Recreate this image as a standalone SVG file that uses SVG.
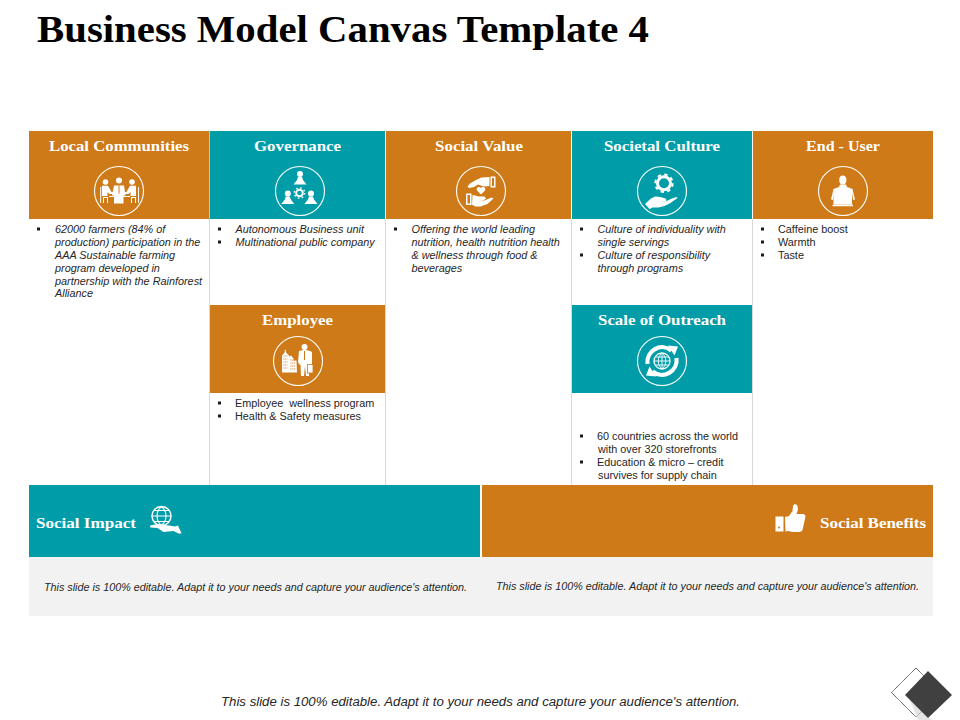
<svg xmlns="http://www.w3.org/2000/svg" width="960" height="720" viewBox="0 0 960 720">
<style>
.o{fill:#CE7A18}.t{fill:#009DA9}.g{fill:#F2F2F2}
.h{font:bold 14.5px "Liberation Serif",serif;fill:#fff;text-anchor:middle}
.b{font:10.85px "Liberation Sans",Arial,sans-serif;fill:#262626}
.i{font-style:italic}
.n{font:italic 10.6px "Liberation Sans",Arial,sans-serif;fill:#262626;text-anchor:middle}
.ring{fill:none;stroke:#fff;stroke-width:1.100}
.w{fill:#fff}
.ls{stroke:#fff;fill:none}
</style>
<defs><rect id="bu" width="3" height="3" fill="#1a1a1a"/></defs>
<rect width="960" height="720" fill="#fff"/>
<text x="37" y="42" font-family="Liberation Serif,serif" font-weight="bold" font-size="37" fill="#000" textLength="612" lengthAdjust="spacingAndGlyphs">Business Model Canvas Template 4</text>
<g id="grid" stroke="#D9D9D9" stroke-width="1" fill="none">
<path d="M209.500 219V485M385.500 219V485M571.500 219V485M752.500 219V485"/>
</g>
<g id="local-communities">
<rect class="o" x="29" y="131" width="180.500" height="88"/>
<text class="h" x="119" y="151" textLength="140" lengthAdjust="spacingAndGlyphs">Local Communities</text>
<circle class="ring" cx="119" cy="191" r="24.500"/>
<g class="w">
<circle cx="105.500" cy="182" r="2.800"/><circle cx="119" cy="180.500" r="3"/><circle cx="132" cy="182" r="2.800"/>
<path d="M114 185.500h10l1.500 10h-2v8h-9.500v-8h-2zM102 185.800h6l3.500 6.200h2v2h-4l-2-2v4h-5.500zM130 185.800h6v10.200h-5.500v-4l-2 2h-4v-2h2z"/>
<path d="M100.200 187h1v16h-1zM138 187h1v16h-1zM103 197h5v6h-1v-5h-3v5h-1zM131 197h5v6h-1v-5h-3v5h-1zM109 196h21v1h-21z"/>
</g>
<path d="M119 185.500v8" stroke="#CE7A18" stroke-width="1"/>
</g>
<g id="governance">
<rect class="t" x="210" y="131" width="175" height="88"/>
<text class="h" x="297.500" y="151" textLength="87" lengthAdjust="spacingAndGlyphs">Governance</text>
<circle class="ring" cx="300" cy="191" r="24.500"/>
<g class="w">
<circle cx="300" cy="174" r="3"/><path d="M298 177h4l1 3 3.500 4.500h-13l3.500-4.500z"/>
<circle cx="287.800" cy="193.500" r="3"/><path d="M285.800 196.500h4l1 3 3.500 4.500h-13l3.500-4.500z"/>
<circle cx="311" cy="193.500" r="3"/><path d="M309 196.500h4l1 3 3.500 4.500h-13l3.500-4.500z"/>
</g>
<circle cx="299.500" cy="193" r="3.300" fill="none" stroke="#fff" stroke-width="2"/>
<circle cx="299.500" cy="193" r="5.200" fill="none" stroke="#fff" stroke-width="1.400" stroke-dasharray="1.600 2.480"/>
</g>
<g id="social-value">
<rect class="o" x="386" y="131" width="185" height="88"/>
<text class="h" x="479" y="151" textLength="88" lengthAdjust="spacingAndGlyphs">Social Value</text>
<circle class="ring" cx="481" cy="191" r="24.500"/>
<g class="w">
<path d="M489.500 177l-8 .5-5.500 2.500-6 3.500-2.500 3 1.500 1.500 5-1 4-2.500 5.500 2 6-.5z"/>
<path d="M490.500 176.500h5v11h-5zM492 178v8h2v-8z" fill-rule="evenodd"/>
<path d="M466 193.500h5.500v11.500h-5.500zM467.500 195v8.500h2.500v-8.500z" fill-rule="evenodd"/>
<path d="M472.500 195l6.500 1.500h5.500l1.500 2-2 1.500h-5l5.500 .5 7-3 2 1-6 5.500-7 2.500h-5l-3-1.500h-.500z"/>
<path d="M481 194.500l-4-4a2.300 2.300 0 0 1 4-2.300 2.300 2.300 0 0 1 4 2.300z"/>
</g>
</g>
<g id="societal-culture">
<rect class="t" x="572" y="131" width="180" height="88"/>
<text class="h" x="662" y="151" textLength="116" lengthAdjust="spacingAndGlyphs">Societal Culture</text>
<circle class="ring" cx="662" cy="191" r="24.500"/>
<circle cx="664" cy="183.300" r="6.500" fill="none" stroke="#fff" stroke-width="3"/>
<circle cx="664" cy="183.300" r="8.700" fill="none" stroke="#fff" stroke-width="2" stroke-dasharray="3.400 3.430"/>
<path class="w" d="M645 204l6-5.500 4-2 5.500.5 5 1.500 1 1.500-1 1.500h-5.500l5 .3 7-3.300 4.500-1.500 1 1-7 5-6 3-6 1.500h-6l-3 1.500z"/>
</g>
<g id="end-user">
<rect class="o" x="753" y="131" width="180" height="88"/>
<text class="h" x="843" y="151" textLength="74" lengthAdjust="spacingAndGlyphs">End - User</text>
<circle class="ring" cx="843" cy="191" r="24.500"/>
<g class="w">
<ellipse cx="842.800" cy="180" rx="3.600" ry="4.500"/>
<path d="M840 184.500h6l1 2.500 5.500 2 2.500 10.500-2 .5-1-8h-18l-1 8-2-.5 2.500-10.500 5.500-2z"/>
<path d="M833.500 190.500h18.500v14h-18.500zM832.500 204.800h20.500v1.500h-20.500z"/>
</g>
</g>
<g id="employee">
<rect class="o" x="210" y="305" width="175" height="88"/>
<text class="h" x="297.500" y="325" textLength="71" lengthAdjust="spacingAndGlyphs">Employee</text>
<circle class="ring" cx="298" cy="361" r="24.500"/>
<g class="w">
<path d="M282 372.500v-17l2.500-3 .5-3h.500l.5 3 3 3v17zM289 372.500v-16l2-1 2.500 3v2h3l.5 12z"/>
<circle cx="304.500" cy="347" r="3"/>
<path d="M299 351l4-1h3l4 1 2 1v13l-1 2h-1.500l-.5 9h-3l-1-10-1 10h-3l-.5-11-1.500-1-1-2z"/>
<rect x="307.500" y="364.500" width="5.500" height="8.500" stroke="#CE7A18" stroke-width=".8"/>
</g>
<path d="M283.500 356h4M283.500 359h4M283.500 362h4M283.500 365h4M283.500 368h4M290.500 360h5M290.500 363h5M290.500 366h5M290.500 369h5" stroke="#CE7A18" stroke-width="1.100" stroke-dasharray="1 .8"/>
<path d="M304.500 351v9" stroke="#CE7A18" stroke-width="1"/>
</g>
<g id="scale-of-outreach">
<rect class="t" x="572" y="305" width="180" height="88"/>
<text class="h" x="662" y="325" textLength="128" lengthAdjust="spacingAndGlyphs">Scale of Outreach</text>
<circle class="ring" cx="662" cy="361" r="24.500"/>
<circle cx="662" cy="361" r="8" fill="none" stroke="#fff" stroke-width="1.300"/>
<path class="ls" stroke-width=".9" d="M654 361h16M655.500 357h13M655.500 365h13M662 353v16M662 353c-5 4-5 12 0 16M662 353c5 4 5 12 0 16"/>
<path class="ls" stroke-width="4.200" d="M647.500 364a14.800 14.800 0 0 1 24-13.500M676.500 358a14.800 14.800 0 0 1-24 13.500"/>
<path class="w" d="M668 345.500l10 1-3.500 9zM656 376.500l-10-1 3.500-9z"/>
</g>
<g id="local-communities-text" class="b i">
<use href="#bu" x="37" y="227.500"/>
<text x="55" y="233">62000 farmers (84% of</text>
<text x="55" y="246">production) participation in the</text>
<text x="55" y="259">AAA Sustainable farming</text>
<text x="55" y="272">program developed in</text>
<text x="55" y="285">partnership with the Rainforest</text>
<text x="55" y="297">Alliance</text>
</g>
<g id="governance-text" class="b i">
<use href="#bu" x="218" y="227.500"/><text x="235.500" y="233">Autonomous Business unit</text>
<use href="#bu" x="218" y="240.500"/><text x="235.500" y="246">Multinational public company</text>
</g>
<g id="social-value-text" class="b i">
<use href="#bu" x="394" y="227.500"/>
<text x="411.500" y="233">Offering the world leading</text>
<text x="411.500" y="246">nutrition, health nutrition health</text>
<text x="411.500" y="259">&amp; wellness through food &amp;</text>
<text x="411.500" y="272">beverages</text>
</g>
<g id="societal-culture-text" class="b i">
<use href="#bu" x="580" y="227.500"/><text x="597.500" y="233">Culture of individuality with</text>
<text x="597.500" y="246">single servings</text>
<use href="#bu" x="580" y="253.500"/><text x="597.500" y="259">Culture of responsibility</text>
<text x="597.500" y="272">through programs</text>
</g>
<g id="end-user-text" class="b">
<use href="#bu" x="761" y="227.500"/><text x="778" y="233">Caffeine boost</text>
<use href="#bu" x="761" y="240.500"/><text x="778" y="246">Warmth</text>
<use href="#bu" x="761" y="253.500"/><text x="778" y="259">Taste</text>
</g>
<g id="employee-text" class="b">
<use href="#bu" x="218" y="401.500"/><text x="235" y="407" xml:space="preserve">Employee  wellness program</text>
<use href="#bu" x="218" y="414.500"/><text x="235" y="420" xml:space="preserve">Health &amp; Safety measures</text>
</g>
<g id="scale-of-outreach-text" class="b">
<use href="#bu" x="580" y="434.500"/><text x="597" y="440">60 countries across the world</text>
<text x="598" y="453">with over 320 storefronts</text>
<use href="#bu" x="580" y="460.500"/><text x="597" y="466">Education &amp; micro – credit</text>
<text x="598" y="479">survives for supply chain</text>
</g>
<rect class="g" x="29" y="557" width="904" height="59"/>
<g id="social-impact">
<rect class="t" x="29" y="485" width="451" height="72"/>
<text class="h" x="86" y="528" textLength="100" lengthAdjust="spacingAndGlyphs">Social Impact</text>
<circle cx="161.500" cy="516" r="9.500" fill="none" stroke="#fff" stroke-width="1.500"/>
<path class="ls" stroke-width="1.100" d="M154 510.500h15M152.500 516h18M154 521.500h15M161.500 506.500c-6 5-6 14 0 19M161.500 506.500c6 5 6 14 0 19"/>
<path class="w" d="M150 525.500l8-1.500 6 1 5 .5 6 1 3-1 3.500 8h-3l-5-2.500-10 1-6-4-7-.5z"/>
<text class="n" x="255.500" y="591" textLength="423" lengthAdjust="spacingAndGlyphs">This slide is 100% editable. Adapt it to your needs and capture your audience's attention.</text>
</g>
<g id="social-benefits">
<rect class="o" x="482" y="485" width="451" height="72"/>
<text class="h" x="873" y="528" textLength="106" lengthAdjust="spacingAndGlyphs">Social Benefits</text>
<path class="w" d="M775.500 516.500h8v15h-8z"/>
<circle cx="779" cy="527.500" r="1" fill="#CE7A18"/>
<path class="w" d="M785 517l4-1 3.500-5 .5-5 1.500-2 2.500 1 1 3-.5 3-1 3h7l2 1.500-.5 3.500-1 4-1 5-1 3-2.500 1h-7l-4-1-3 .5z"/>
<text class="n" x="707.500" y="590" textLength="423" lengthAdjust="spacingAndGlyphs">This slide is 100% editable. Adapt it to your needs and capture your audience's attention.</text>
</g>
<text x="480.500" y="706" font-family="Liberation Sans,Arial,sans-serif" font-style="italic" font-size="12.300" fill="#262626" text-anchor="middle" textLength="519" lengthAdjust="spacingAndGlyphs">This slide is 100% editable. Adapt it to your needs and capture your audience's attention.</text>
<g id="corner-mark">
<path d="M916 668l24.500 24.500-24.500 24.500-24.500-24.500z" fill="#fff" stroke="#222" stroke-width="1" stroke-dasharray="1 .6"/>
<path d="M909 698l23 22h-14z" fill="#D9D9D9" opacity=".7"/>
<path d="M928 671l24 24-24 23-23-23z" fill="#404040"/>
</g>
</svg>
